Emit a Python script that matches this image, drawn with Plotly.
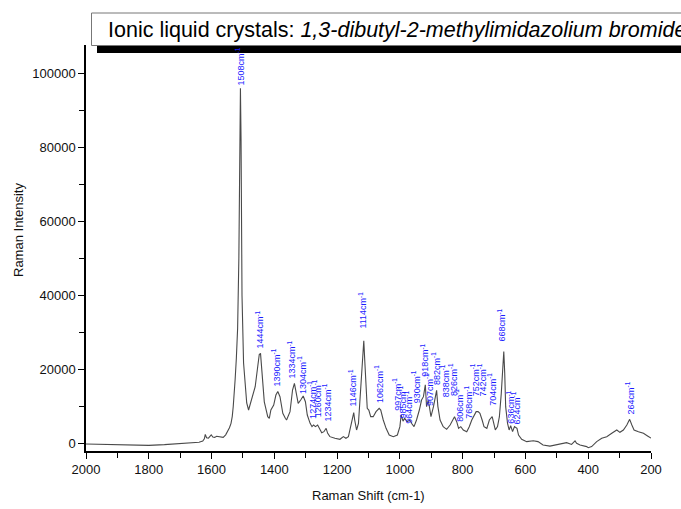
import plotly.graph_objects as go
import numpy as np

# ---- data ----
wavenumber = [2000, 1950, 1900, 1850, 1800, 1750, 1700, 1660, 1640, 1628, 1623, 1620, 1616, 1610, 1605,
              1601, 1596, 1590, 1584, 1575, 1563, 1555, 1549, 1543, 1538, 1534, 1531, 1528, 1525, 1521,
              1517, 1513, 1510, 1508, 1506, 1503, 1498, 1492, 1488, 1482, 1474, 1466, 1461, 1453, 1448,
              1444, 1440, 1437, 1432, 1421, 1416, 1411, 1402, 1395, 1389, 1382, 1373, 1365, 1361, 1350,
              1342, 1336, 1331, 1324, 1316, 1308, 1301, 1295, 1286, 1280, 1275, 1269, 1262, 1257, 1249,
              1242, 1235, 1230, 1223, 1207, 1191, 1180, 1172, 1164, 1157, 1153, 1147, 1144, 1138, 1132,
              1124, 1119, 1115, 1112, 1108, 1104, 1099, 1093, 1085, 1076, 1066, 1061, 1053, 1044, 1034,
              1021, 1008, 1000, 996, 990, 985, 977, 968, 963, 955, 947, 938, 931, 925, 919,
              915, 910, 906, 901, 893, 887, 883, 879, 872, 862, 851, 840, 832, 826, 819,
              813, 806, 798, 787, 779, 771, 764, 757, 751, 745, 738, 732, 723, 715, 706,
              702, 696, 689, 683, 677, 673, 669, 666, 663, 657, 652, 647, 641, 635, 627,
              622, 612, 596, 575, 560, 544, 522, 501, 490, 474, 469, 453, 442, 437, 426,
              405, 400, 389, 373, 357, 341, 325, 309, 299, 288, 277, 268, 261, 254, 240,
              224, 211, 203, 200]
intensity = [-200, -300, -450, -600, -550, -350, -100, 100, 300, 600, 1200, 2400, 1500, 1400, 1800,
             2300, 1700, 1600, 1900, 1800, 1600, 2300, 3100, 4200, 5400, 7300, 9900, 13000, 17100, 23000,
             31000, 50000, 80000, 96000, 82000, 40000, 21700, 14900, 10900, 9000, 11200, 13900, 15300, 20700, 24000,
             24300, 19000, 14900, 11200, 7200, 6750, 9000, 10350, 13050, 14000, 12600, 8100, 6750, 6300, 8550,
             14400, 16200, 13950, 10800, 11700, 12800, 11250, 7650, 5400, 4500, 4950, 4500, 4950, 4050, 2870,
             3140, 4050, 2700, 1800, 1350, 1080, 1800, 1350, 1800, 4500, 6750, 8300, 6300, 3600, 5400,
             15300, 24300, 27700, 22500, 14400, 9450, 9000, 7200, 7200, 8550, 9450, 9000, 6300, 4050, 2240,
             1800, 2240, 4500, 7650, 6000, 6750, 5850, 6300, 5400, 4500, 6300, 9000, 11700, 12600, 15800,
             9900, 11700, 9900, 7200, 9900, 13000, 14300, 10000, 6300, 4500, 3780, 4950, 6300, 7200, 5850,
             4050, 4500, 3600, 3150, 4500, 6300, 7650, 8550, 8550, 8100, 6300, 4500, 4050, 6300, 7200,
             5400, 3600, 4500, 7200, 13500, 19800, 24800, 18900, 9900, 5400, 3600, 4770, 3150, 4500, 4050,
             2240, 1080, 450, 700, 450, -450, -750, -450, -200, 90, 180, -300, 630, 0, -450,
             -900, -1200, -900, 450, 1350, 1800, 2700, 3600, 2970, 3600, 4950, 6480, 4950, 3600, 3150,
             2700, 1980, 1530, 1400]

peak_labels = [1508, 1444, 1390, 1334, 1304, 1274, 1260, 1234, 1146, 1114, 1062, 997, 985, 964,
               930, 918, 907, 882, 838, 826, 806, 768, 752, 742, 704, 668, 636, 624, 264]

x_ticks = [2000, 1800, 1600, 1400, 1200, 1000, 800, 600, 400, 200]
y_ticks = [0, 20000, 40000, 60000, 80000, 100000]

# ---- label placement (bottoms in data units, pixel x offsets), styling only ----
label_bottom = [96570, 25220, 15220, 17110, 13060, 6300, 6840, 5760, 9540, 30630, 10620, 8460, 6300, 4950,
                10620, 17650, 9810, 15490, 12240, 12510, 5490, 6300, 12510, 12510, 9810, 27140, 4950, 4950, 7650]
label_dx = [0, -1, -1, -3.5, -2.5, -2, -1, 1, -2, -1, -1.5, -4.5, -2.5, -2,
            -6, -1.5, -0.5, -1.5, -6, -2, -1.5, -4.5, -3, 1, -1.5, -2, -3, -1, -1]

FONT = "Liberation Sans, Arial, sans-serif"
L, R, T, B = 86, 30, 45, 58
PW, PH = 681 - L - R, 509 - T - B


def px(xp):
    return (xp - L) / PW


def py(yp):
    return (509 - B - yp) / PH


fig = go.Figure()
fig.add_trace(go.Scatter(x=wavenumber, y=intensity, mode="lines",
                         line=dict(color="#4a4a4a", width=1.1), hoverinfo="skip",
                         showlegend=False))

annotations = []
for wn, yb, dx in zip(peak_labels, label_bottom, label_dx):
    annotations.append(dict(x=wn, y=yb, xref="x", yref="y", text=f"{wn}cm<sup>-1</sup>",
                            textangle=-90, showarrow=False, xanchor="center", yanchor="bottom",
                            xshift=dx, borderpad=0,
                            font=dict(family=FONT, size=9, color="#1c1cff")))

# title text
annotations.append(dict(x=px(106), y=py(30), xref="paper", yref="paper",
                        xanchor="left", yanchor="middle", showarrow=False,
                        text="Ionic liquid crystals: <i>1,3-dibutyl-2-methylimidazolium bromide</i>",
                        font=dict(family=FONT, size=21.5, color="black")))
# axis titles
annotations.append(dict(x=px(18), y=py(230), xref="paper", yref="paper",
                        xanchor="center", yanchor="middle", showarrow=False, textangle=-90,
                        text="Raman Intensity", font=dict(family=FONT, size=13, color="#111")))
annotations.append(dict(x=px(368), y=py(495), xref="paper", yref="paper",
                        xanchor="center", yanchor="middle", showarrow=False,
                        text="Raman Shift (cm-1)", font=dict(family=FONT, size=13, color="#111")))

shapes = [
    dict(type="rect", xref="paper", yref="paper", layer="above",
         x0=px(97), x1=px(700), y0=py(53), y1=py(20),
         fillcolor="black", line=dict(width=0)),
    dict(type="rect", xref="paper", yref="paper", layer="above",
         x0=px(91.5), x1=px(700), y0=py(45.5), y1=py(13),
         fillcolor="white", line=dict(color="#777777", width=1)),
]

fig.update_layout(
    width=681, height=509,
    margin=dict(l=L, r=R, t=T, b=B, autoexpand=False),
    paper_bgcolor="white", plot_bgcolor="white",
    font=dict(family=FONT, size=13, color="#111"),
    annotations=annotations, shapes=shapes,
    xaxis=dict(range=[2000, 200], tickvals=x_ticks, ticks="outside", ticklen=6, tickwidth=1.3,
               tickcolor="black", showline=True, linecolor="black", linewidth=1.5, automargin=False,
               showgrid=False, zeroline=False, tickfont=dict(size=13, color="#111"), tickformat="d",
               minor=dict(dtick=100, tick0=0, ticks="outside", ticklen=5, tickwidth=1.3, tickcolor="black")),
    yaxis=dict(range=[-2080, 107660], tickvals=y_ticks, ticks="outside", ticklen=6, tickwidth=1.3,
               tickcolor="black", showline=True, linecolor="black", linewidth=1.5, automargin=False,
               showgrid=False, zeroline=False, tickfont=dict(size=13, color="#111"), tickformat="d",
               minor=dict(dtick=10000, tick0=0, ticks="outside", ticklen=5, tickwidth=1.3, tickcolor="black")),
)

fig.write_html("out.html", config={"displayModeBar": False},
               post_script="document.body.style.margin='0';document.body.style.padding='0';"
                           "document.body.style.overflow='hidden';")
